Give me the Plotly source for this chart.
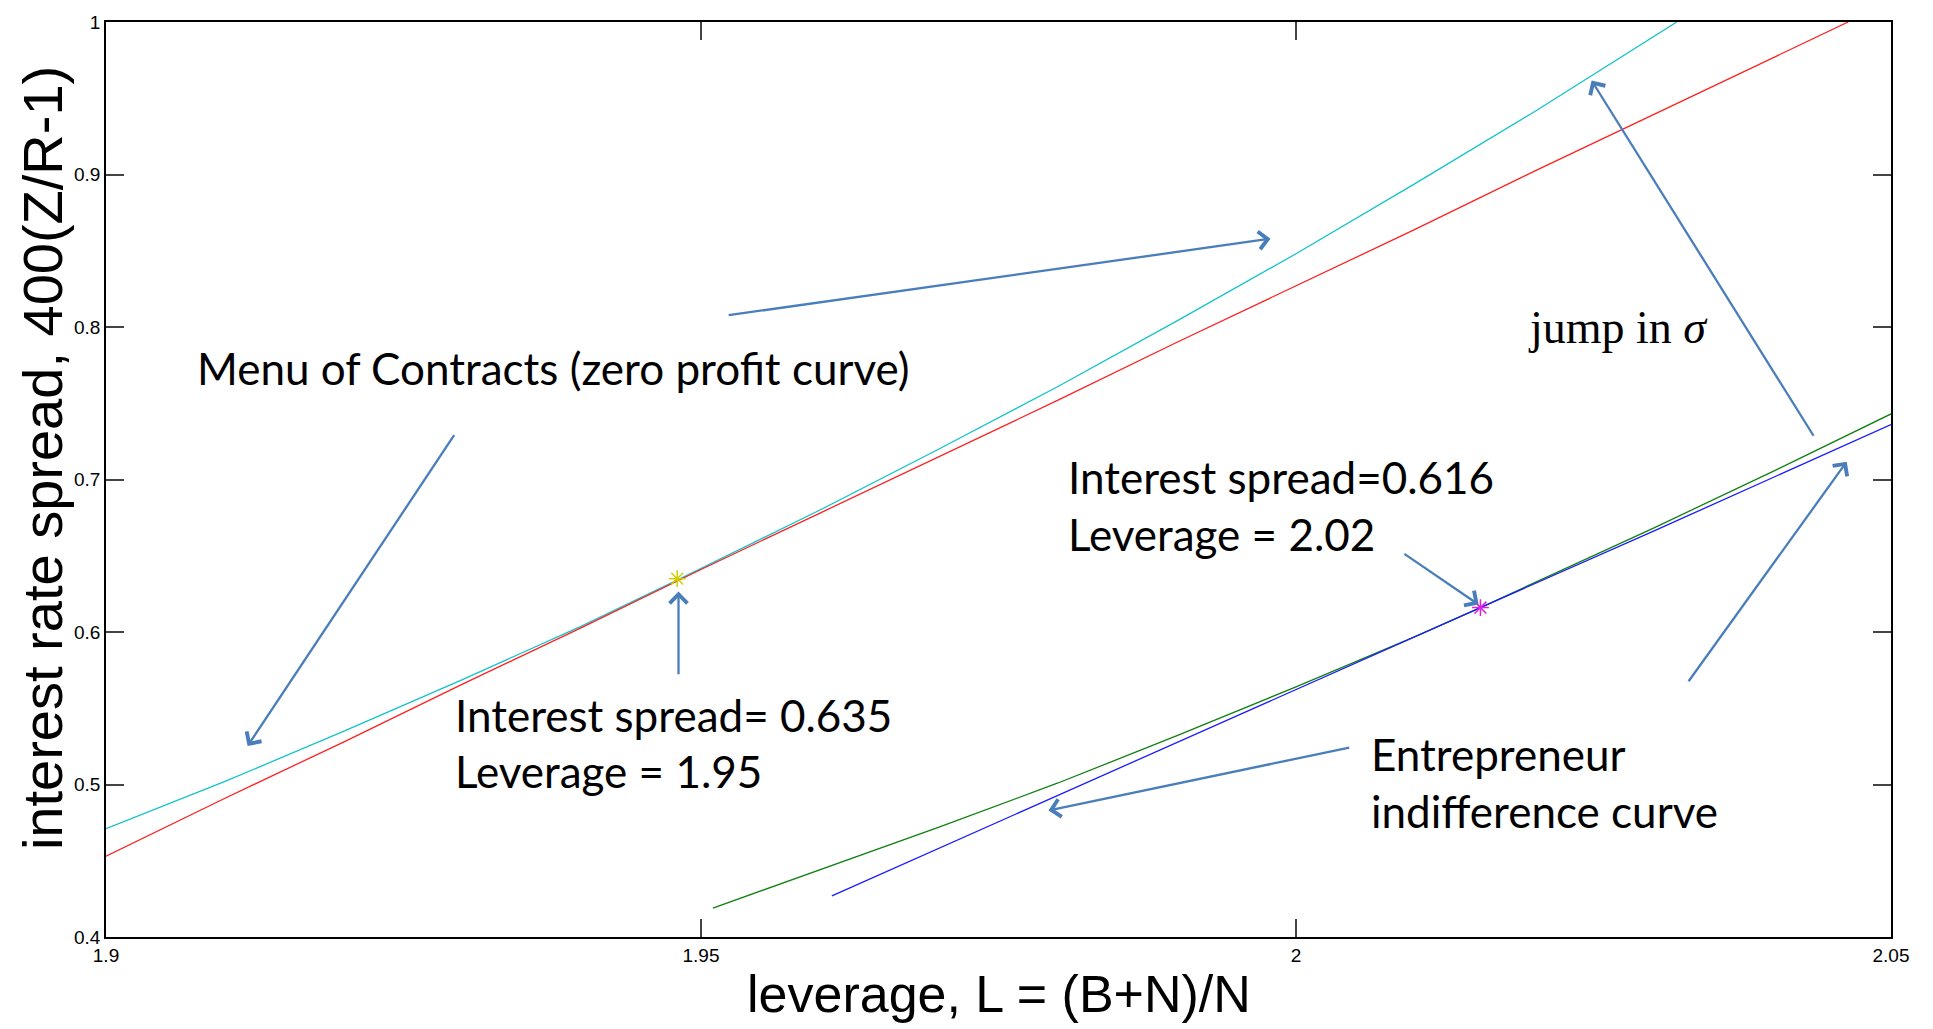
import plotly.graph_objects as go

# ---------------- data ----------------
# Menu of contracts (zero profit curve) after the jump in sigma (cyan)
cyan_L = [1.900, 1.910, 1.920, 1.930, 1.940, 1.948, 1.960, 1.970, 1.980, 1.990, 2.000, 2.010, 2.020, 2.030, 2.032]
cyan_v = [0.471, 0.502, 0.535, 0.569, 0.604, 0.634, 0.680, 0.720, 0.761, 0.804, 0.848, 0.894, 0.941, 0.990, 1.000]

# Menu of contracts before the jump (red)
red_L = [1.900, 1.910, 1.920, 1.930, 1.940, 1.950, 1.960, 1.970, 1.980, 1.990, 2.000, 2.010, 2.020, 2.030, 2.040, 2.0464]
red_v = [0.453, 0.491, 0.528, 0.566, 0.603, 0.641, 0.678, 0.715, 0.752, 0.790, 0.827, 0.864, 0.902, 0.939, 0.976, 1.000]

# Entrepreneur indifference curve (green)
green_L = [1.951, 1.960, 1.970, 1.980, 1.990, 2.000, 2.010, 2.0155, 2.020, 2.030, 2.040, 2.050]
green_v = [0.419, 0.444, 0.472, 0.501, 0.532, 0.564, 0.597, 0.616, 0.632, 0.668, 0.705, 0.743]

# Tangent line (blue)
blue_L = [1.961, 1.980, 2.000, 2.0155, 2.030, 2.050]
blue_v = [0.427, 0.493, 0.562, 0.616, 0.666, 0.736]

# Marked optimal contracts
star1_L, star1_v = [1.948], [0.635]
star2_L, star2_v = [2.0155], [0.616]

# Tick labels
x_ticks = [1.90, 1.95, 2.00, 2.05]
x_ticktext = ["1.9", "1.95", "2", "2.05"]
y_ticks = [0.4, 0.5, 0.6, 0.7, 0.8, 0.9, 1.0]
y_ticktext = ["0.4", "0.5", "0.6", "0.7", "0.8", "0.9", "1"]

# Arrows: (tail L, tail v, head L, head v)
arrow_tail_L = [1.92934, 1.95220, 1.94811, 2.00898, 2.00460, 2.03290, 2.04357]
arrow_tail_v = [0.7301, 0.8076, 0.5713, 0.6519, 0.5244, 0.5667, 0.7277]
arrow_head_L = [1.91190, 1.99786, 1.94811, 2.01535, 1.97920, 2.04628, 2.02484]
arrow_head_v = [0.5252, 0.8579, 0.6265, 0.6180, 0.4830, 0.7117, 0.9616]

# Text labels
label_text = ["Menu of Contracts (zero profit curve)",
              "Interest spread= 0.635", "Leverage = 1.95",
              "Interest spread=0.616", "Leverage = 2.02",
              "Entrepreneur", "indifference curve"]
label_L = [1.90750, 1.92920, 1.92920, 1.98070, 1.98070, 2.00615, 2.00615]
label_v = [0.7733, 0.5453, 0.5091, 0.7014, 0.6645, 0.5199, 0.4826]

# ---------------- figure ----------------
fig = go.Figure()

fig.add_trace(go.Scatter(x=cyan_L, y=cyan_v, mode="lines",
                         line=dict(color="#12c3c8", width=1.3), showlegend=False))
fig.add_trace(go.Scatter(x=red_L, y=red_v, mode="lines",
                         line=dict(color="#ff2020", width=1.3), showlegend=False))
fig.add_trace(go.Scatter(x=green_L, y=green_v, mode="lines",
                         line=dict(color="#108010", width=1.3), showlegend=False))
fig.add_trace(go.Scatter(x=blue_L, y=blue_v, mode="lines",
                         line=dict(color="#1a1aff", width=1.3), showlegend=False))
fig.add_trace(go.Scatter(x=star1_L, y=star1_v, mode="markers",
                         marker=dict(symbol="asterisk-open", size=14, color="#d0d000",
                                     line=dict(color="#d0d000", width=1.5)),
                         showlegend=False))
fig.add_trace(go.Scatter(x=star2_L, y=star2_v, mode="markers",
                         marker=dict(symbol="asterisk-open", size=14, color="#e020e0",
                                     line=dict(color="#e020e0", width=1.5)),
                         showlegend=False))

arrow_color = "#4a7ebb"
for tl, tv, hl, hv in zip(arrow_tail_L, arrow_tail_v, arrow_head_L, arrow_head_v):
    fig.add_annotation(x=hl, y=hv, ax=tl, ay=tv, xref="x", yref="y",
                       axref="x", ayref="y", text="", showarrow=True,
                       arrowhead=4, arrowsize=1.5, arrowwidth=2.3,
                       arrowcolor=arrow_color, standoff=0)

text_font = dict(family="Lato, Carlito, Calibri, sans-serif", size=44, color="black")
for t, lx, ly in zip(label_text, label_L, label_v):
    fig.add_annotation(x=lx, y=ly, xref="x", yref="y", text=t, showarrow=False,
                       xanchor="left", yanchor="middle", font=text_font)

fig.add_annotation(x=2.01935, y=0.7999, xref="x", yref="y",
                   text="jump in <i>σ</i>", showarrow=False,
                   xanchor="left", yanchor="middle",
                   font=dict(family="Liberation Serif, Times New Roman, serif",
                             size=46, color="black"))

# Axis titles
axis_font = "Liberation Sans, Arial, Helvetica, sans-serif"
fig.add_annotation(x=0.5, y=-0.062, xref="paper", yref="paper",
                   text="leverage, L = (B+N)/N", showarrow=False,
                   xanchor="center", yanchor="middle",
                   font=dict(family=axis_font, size=52, color="black"))
fig.add_annotation(x=-0.0359, y=0.5233, xref="paper", yref="paper",
                   text="interest rate spread, 400(Z/R-1)", showarrow=False,
                   textangle=-90, xanchor="center", yanchor="middle",
                   font=dict(family=axis_font, size=56, color="black"))

axis_common = dict(showgrid=False, zeroline=False, showline=True, linecolor="black",
                   linewidth=1.8, mirror="ticks", ticks="inside", ticklen=18,
                   tickwidth=1.5, tickcolor="#444444",
                   tickfont=dict(family=axis_font, size=19, color="black"))

fig.update_xaxes(range=[1.9, 2.05], tickvals=x_ticks, ticktext=x_ticktext, **axis_common)
fig.update_yaxes(range=[0.4, 1.0], tickvals=y_ticks, ticktext=y_ticktext, **axis_common)

fig.update_layout(width=1933, height=1029, autosize=False,
                  margin=dict(l=106, r=42, t=16, b=92),
                  paper_bgcolor="white", plot_bgcolor="white",
                  showlegend=False)

fig.write_html("out.html", config={"displayModeBar": False},
               post_script="document.body.style.margin='0';")
